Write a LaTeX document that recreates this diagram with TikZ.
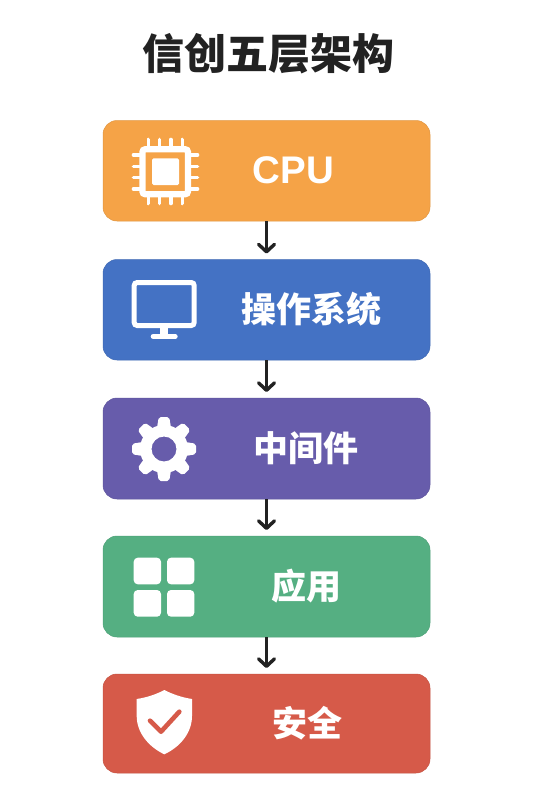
\documentclass[tikz,border=0pt]{standalone}
\usepackage{fontspec}
\usetikzlibrary{arrows.meta}
\newfontfamily\cjk{Noto Sans CJK SC}
\newfontfamily\latn{Liberation Sans}
\definecolor{cOrange}{HTML}{F5A347}
\definecolor{cBlue}{HTML}{4472C4}
\definecolor{cPurple}{HTML}{675CAB}
\definecolor{cGreen}{HTML}{55AF82}
\definecolor{cRed}{HTML}{D65A49}
\definecolor{cInk}{HTML}{222222}
\tikzset{
  layerbox/.style={rounded corners=14pt,minimum width=327pt,inner sep=0pt,outer sep=0pt,draw=#1!92!black,line width=0.5pt,fill=#1},
  label/.style={text=white,font=\cjk\bfseries\fontsize{35}{40}\selectfont,inner sep=0pt,anchor=center},
  flow/.style={draw=cInk,line width=3.4pt,shorten >=6pt,-{Straight Barb[length=7.5pt,width=16pt,line width=3.4pt,round]}},
  iconfill/.style={fill=white,draw=none},
  iconline/.style={draw=white,line cap=round},
}
\begin{document}
\begin{tikzpicture}[x=1pt,y=-1pt]
\useasboundingbox (0,0) rectangle (533,800);
\fill[white] (0,0) rectangle (533,800);
\node[font=\cjk\bfseries\fontsize{42}{48}\selectfont,text=cInk,inner sep=0pt] (title) at (268.5,53.5) {信创五层架构};
\node[layerbox=cOrange,minimum height=100.5pt] (b1) at (266.5,170.75) {};
\node[layerbox=cBlue,minimum height=100.5pt] (b2) at (266.5,309.75) {};
\node[layerbox=cPurple,minimum height=101pt] (b3) at (266.5,448.5) {};
\node[layerbox=cGreen,minimum height=101pt] (b4) at (266.5,586.5) {};
\node[layerbox=cRed,minimum height=99pt] (b5) at (266.5,723.5) {};
\node[label,font=\latn\bfseries\fontsize{38.5}{46}\selectfont] (t1) at (293.5,170.5) {CPU};
\node[label] (t2) at (311.5,309.5) {操作系统};
\node[label] (t3) at (306,448.5) {中间件};
\node[label] (t4) at (306.5,586) {应用};
\node[label] (t5) at (307,723) {安全};
\draw[flow] (b1.south) -- (b2.north);
\draw[flow] (b2.south) -- (b3.north);
\draw[flow] (b3.south) -- (b4.north);
\draw[flow] (b4.south) -- (b5.north);
% CPU icon
\draw[draw=white,line width=6.3pt,rounded corners=3pt] (142.4,149.2) rectangle (188,194.3);
\fill[iconfill,rounded corners=1.5pt] (152,158.3) rectangle (179,185);
\foreach \p in {148.3,159.5,170.7,182.3}{
  \draw[iconline,line width=3.6pt] (\p,139.5) -- (\p,147);
  \draw[iconline,line width=3.6pt] (\p,196) -- (\p,203.5);
}
\foreach \p in {155,166.5,177.5,189}{
  \draw[iconline,line width=3.6pt] (133.5,\p) -- (141,\p);
  \draw[iconline,line width=3.6pt] (190,\p) -- (197.5,\p);
}
% monitor icon
\draw[draw=white,line width=5pt,rounded corners=3pt] (134.2,282.5) rectangle (194.2,325.5);
\fill[iconfill] (160,327) rectangle (168,336);
\draw[iconline,line width=5pt] (153.2,336.5) -- (175.2,336.5);
% gear icon
\begin{scope}[shift={(164,449)}]
  \fill[iconfill,even odd rule] (0,0) circle[radius=24]
     (0,0) circle[radius=12.5];
  \foreach \a in {0,45,...,315}{
    \begin{scope}[rotate=\a]
      \fill[iconfill,rounded corners=2pt] (-7,-21.5) -- (-5.2,-32) -- (5.2,-32) -- (7,-21.5) -- cycle;
    \end{scope}
  }
\end{scope}
% apps icon
\fill[iconfill,rounded corners=4pt] (133.7,557.7) rectangle (161,584.3);
\fill[iconfill,rounded corners=4pt] (167,557.7) rectangle (194.3,584.3);
\fill[iconfill,rounded corners=4pt] (133.7,590) rectangle (161,616.7);
\fill[iconfill,rounded corners=4pt] (167,590) rectangle (194.3,616.7);
% shield icon
\fill[iconfill] (164.3,690) .. controls (172,694) and (182,697.5) .. (192,699)
  -- (192,716) .. controls (192,733) and (180,747) .. (164.3,754.3)
  .. controls (149,747) and (136.7,733) .. (136.7,716) -- (136.7,699)
  .. controls (147,697.5) and (157,694) .. (164.3,690) -- cycle;
\draw[draw=cRed,line width=4.6pt,line cap=round,line join=round] (150,720.7) -- (161,731.7) -- (179.3,711.7);
\end{tikzpicture}
\end{document}
